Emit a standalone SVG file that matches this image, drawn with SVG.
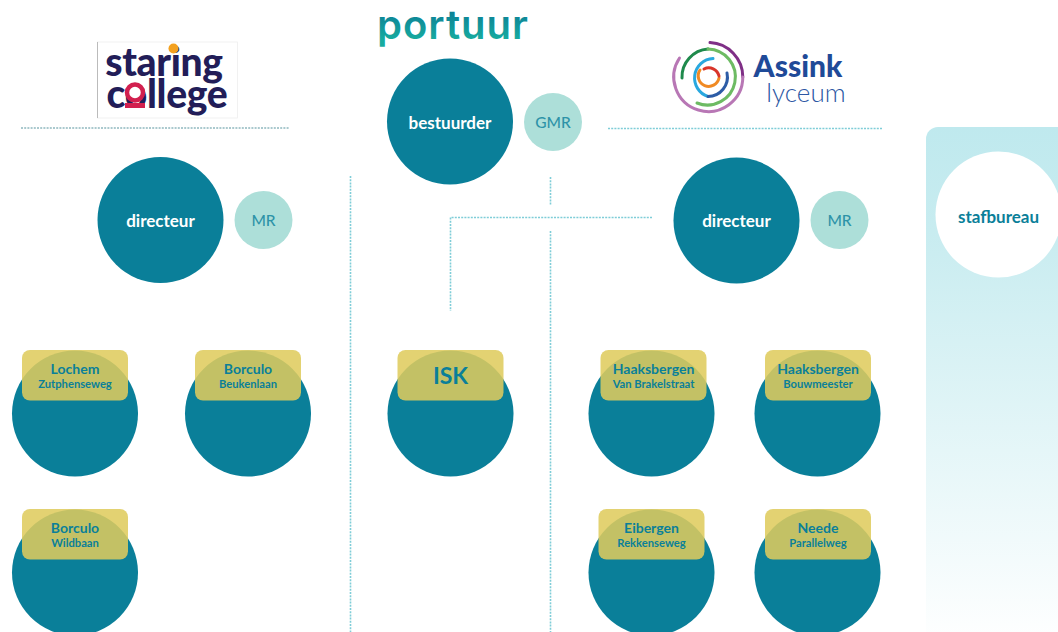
<svg xmlns="http://www.w3.org/2000/svg" width="1058" height="632" viewBox="0 0 1058 632">
<defs>
<linearGradient id="staf" x1="0" y1="0" x2="0" y2="1"><stop offset="0" stop-color="#bfe9ee"/><stop offset="0.2" stop-color="#c8ecf0"/><stop offset="1" stop-color="#ffffff"/></linearGradient>
<linearGradient id="port" x1="0" y1="0" x2="0" y2="1"><stop offset="0.25" stop-color="#0c8196"/><stop offset="0.8" stop-color="#17ab9f"/></linearGradient>
</defs>
<style>
text{font-family:"Lato","Open Sans",sans-serif;text-anchor:middle}
.big{fill:#0a7f99}
.mr{fill:#addfd9}
.lab{fill:#ffffff;font-size:17px;font-weight:700}
.mrt{fill:#2d93a8;font-size:15.5px;font-weight:500}
.tag{fill:#dfcb5d;fill-opacity:.87}
.t1{fill:#0a7f99;font-size:14px;font-weight:700}
.t2{fill:#0a7f99;font-size:11.2px;font-weight:700}
.dot{fill:none;stroke:#7fcdd8;stroke-width:1.6;stroke-dasharray:2 1.2}
.ring{fill:none;stroke-width:3;stroke-linecap:round}
.sc{font-size:39px;font-weight:900;fill:#221d58;letter-spacing:-0.3px}
</style>
<rect id="stafpanel" x="926" y="127" width="150" height="520" rx="12" fill="url(#staf)"/>
<g id="connectors">
<path class="dot" d="M21 128H289" style="stroke:#8fb8be"/>
<path class="dot" d="M608 128.500H882"/>
<path class="dot" d="M350.500 176V632"/>
<path class="dot" d="M550.500 177V205"/>
<path class="dot" d="M550.500 231V632"/>
<path class="dot" d="M652 217.500H450.500V311"/>
</g>
<g id="logo-staring">
<rect x="97.500" y="42" width="140" height="76" fill="#fff" stroke="#eeeeee" stroke-width="0.8"/>
<path d="M97.500 42V118" stroke="#bbbbbb" fill="none"/>
<text class="sc" x="164" y="76">staring</text>
<text class="sc" x="167" y="108">college</text>
<circle cx="135" cy="92.500" r="8" fill="#fff" stroke="#d2204f" stroke-width="4.500"/>
<rect x="125" y="103" width="20" height="5" fill="#d2204f"/>
<circle cx="173.500" cy="48.500" r="5" fill="#f3a11f"/>
</g>
<g id="logo-portuur">
<text x="452.500" y="39" textLength="151" lengthAdjust="spacing" fill="url(#port)" style="font-family:Inter,'Open Sans',sans-serif;font-size:40px;font-weight:600">portuur</text>
</g>
<g id="logo-assink">
<path class="ring" stroke="#7f2f86" d="M710 42.600A34.500 34.500 0 0 1 742.800 77"/>
<path class="ring" stroke="#b877b5" d="M742.800 77A34.500 34.500 0 1 1 679.500 58"/>
<path class="ring" stroke="#1f8a4c" d="M682 78A28 28 0 0 1 708 49"/>
<path class="ring" stroke="#6dbb63" d="M708 49A28 28 0 1 1 697 103"/>
<path class="ring" stroke="#29a8df" d="M713 58.500A19.500 19.500 0 0 0 708 96.500"/>
<path class="ring" stroke="#2d5ca6" d="M708 96.500A19.500 19.500 0 0 0 727 73"/>
<path class="ring" stroke="#f08a24" d="M719 78A10.500 10.500 0 1 1 700 70"/>
<path class="ring" stroke="#d9352a" d="M704 69A10.500 10.500 0 0 1 719 76"/>
<text x="798" y="77" style="font-size:30px;font-weight:900;fill:#1f4a98">Assink</text>
<text x="806" y="102" style="font-size:26px;font-weight:300;fill:#2c57a3">lyceum</text>
</g>
<g id="bestuurder"><circle class="big" cx="450" cy="121.500" r="63"/><text class="lab" x="450" y="129">bestuurder</text></g>
<g id="gmr"><circle class="mr" cx="553" cy="122" r="29"/><text class="mrt" x="553" y="128">GMR</text></g>
<g id="directeur-staring"><circle class="big" cx="160.500" cy="220" r="63"/><text class="lab" x="160.500" y="227">directeur</text></g>
<g id="mr-staring"><circle class="mr" cx="263.500" cy="220" r="29"/><text class="mrt" x="263.500" y="226">MR</text></g>
<g id="directeur-assink"><circle class="big" cx="736.500" cy="220.500" r="63"/><text class="lab" x="736.500" y="227">directeur</text></g>
<g id="mr-assink"><circle class="mr" cx="839.500" cy="220" r="29"/><text class="mrt" x="839.500" y="226">MR</text></g>
<g id="stafbureau"><circle cx="998.500" cy="214.500" r="63" fill="#fff"/><text x="998.500" y="223" style="font-size:17px;font-weight:700;fill:#0a7f99">stafbureau</text></g>
<g id="lochem"><circle class="big" cx="75" cy="413.500" r="63"/><rect class="tag" x="22" y="350" width="106" height="50.500" rx="8"/><text class="t1" x="75" y="374">Lochem</text><text class="t2" x="75" y="388">Zutphenseweg</text></g>
<g id="borculo-beukenlaan"><circle class="big" cx="248" cy="413.500" r="63"/><rect class="tag" x="195" y="350" width="106" height="50.500" rx="8"/><text class="t1" x="248" y="374">Borculo</text><text class="t2" x="248" y="388">Beukenlaan</text></g>
<g id="borculo-wildbaan"><circle class="big" cx="75" cy="572.500" r="63"/><rect class="tag" x="22" y="509" width="106" height="50.500" rx="8"/><text class="t1" x="75" y="533">Borculo</text><text class="t2" x="75" y="547">Wildbaan</text></g>
<g id="isk"><circle class="big" cx="450.500" cy="413.500" r="63"/><rect class="tag" x="397.500" y="350" width="106" height="50.500" rx="8"/><text x="450.500" y="384" style="font-size:23px;font-weight:700;fill:#0a7f99">ISK</text></g>
<g id="haaksbergen-vb"><circle class="big" cx="651.500" cy="413.500" r="63"/><rect class="tag" x="600.500" y="350" width="106" height="50.500" rx="8"/><text class="t1" x="653.500" y="374">Haaksbergen</text><text class="t2" x="653.500" y="388">Van Brakelstraat</text></g>
<g id="haaksbergen-bm"><circle class="big" cx="817.500" cy="413.500" r="63"/><rect class="tag" x="765" y="350" width="106" height="50.500" rx="8"/><text class="t1" x="818" y="374">Haaksbergen</text><text class="t2" x="818" y="388">Bouwmeester</text></g>
<g id="eibergen"><circle class="big" cx="651.500" cy="572.500" r="63"/><rect class="tag" x="598.500" y="509" width="106" height="50.500" rx="8"/><text class="t1" x="651.500" y="533">Eibergen</text><text class="t2" x="651.500" y="547">Rekkenseweg</text></g>
<g id="neede"><circle class="big" cx="817.500" cy="572.500" r="63"/><rect class="tag" x="765" y="509" width="106" height="50.500" rx="8"/><text class="t1" x="818" y="533">Neede</text><text class="t2" x="818" y="547">Parallelweg</text></g>
</svg>
